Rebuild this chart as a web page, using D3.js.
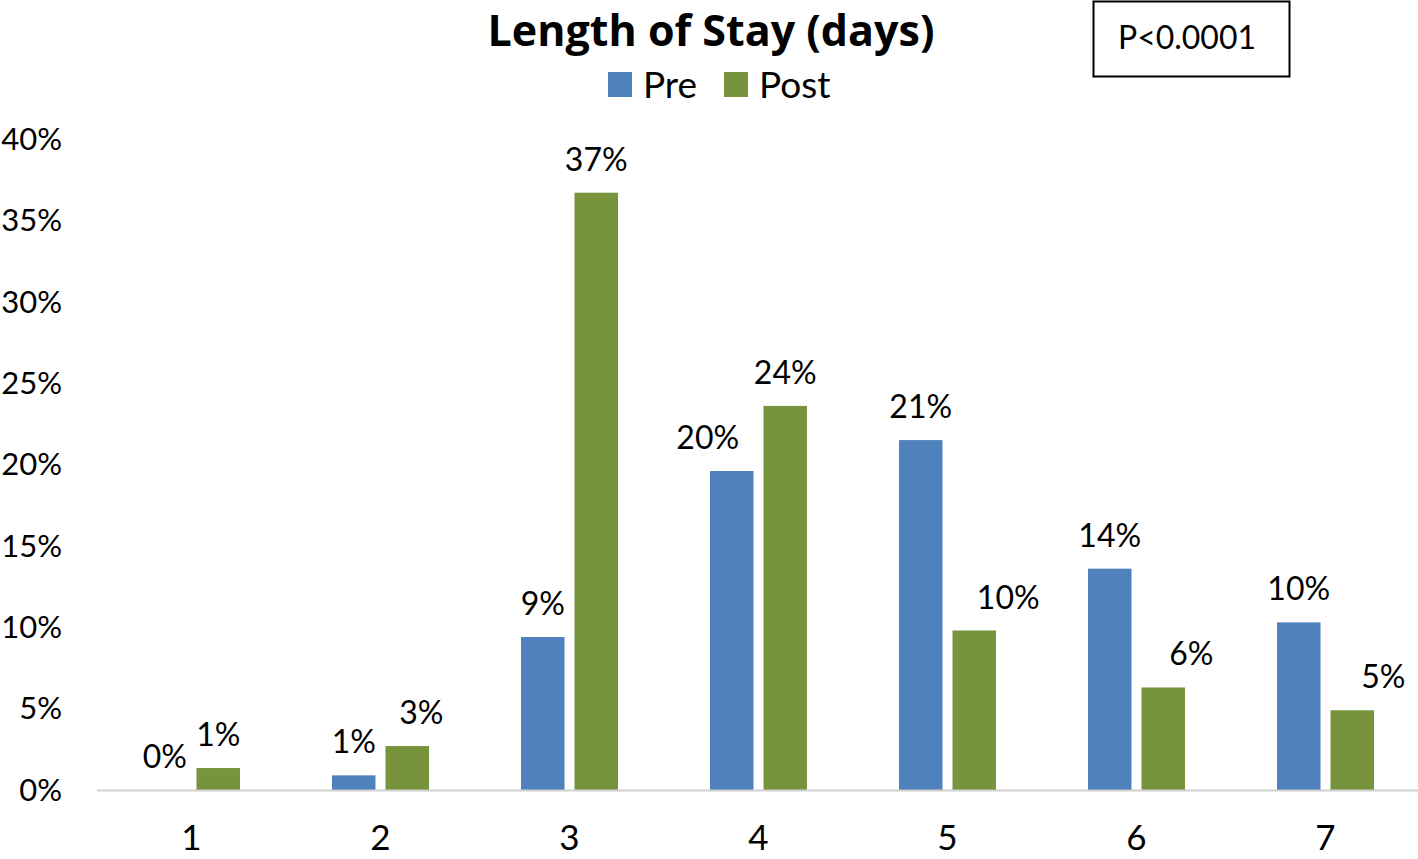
<!DOCTYPE html>
<html><head><meta charset="utf-8">
<script src="https://cdn.jsdelivr.net/npm/d3@7"></script>
<style>body{margin:0;background:#fff}svg{display:block}text{font-family:Lato,"Open Sans",sans-serif}</style>
</head><body><svg id="c" width="1418" height="859"></svg>
<script>
const categories = ["1","2","3","4","5","6","7"];
const seriesNames = ["Pre","Post"];
const preValues = [0.0, 0.9, 9.4, 19.6, 21.5, 13.6, 10.3];
const postValues = [1.35, 2.7, 36.7, 23.6, 9.8, 6.3, 4.9];
const preLabels = ["0%","1%","9%","20%","21%","14%","10%"];
const postLabels = ["1%","3%","37%","24%","10%","6%","5%"];
const yTicks = [0,5,10,15,20,25,30,35,40];
const colors = {Pre:"#4F81BD", Post:"#77933C"};

// label nudges (layout only, like Excel's moved labels)
const labelNudge = {"4-Pre":-24, "2-Post":14, "5-Post":34, "6-Post":28, "7-Post":31};

const svg = d3.select("#c");
const x = d3.scaleBand().domain(categories).range([97,1420]).paddingInner(0).paddingOuter(0);
const xs = d3.scaleBand().domain(seriesNames).range([0,x.bandwidth()]).paddingInner(0.187).paddingOuter(0.86);
const y = d3.scaleLinear().domain([0,40]).range([790,139]);

svg.append("g").selectAll("text").data(yTicks).join("text")
  .attr("x",62).attr("y",d=>y(d)).attr("dy","0.35em").attr("text-anchor","end")
  .attr("font-size",31).attr("fill","#000").text(d=>d+"%");

const data = [];
categories.forEach((c,i)=>{
  data.push({c, s:"Pre", v:preValues[i], l:preLabels[i]});
  data.push({c, s:"Post", v:postValues[i], l:postLabels[i]});
});
svg.append("g").selectAll("rect").data(data).join("rect")
  .attr("x",d=>x(d.c)+xs(d.s)).attr("width",xs.bandwidth())
  .attr("y",d=>y(d.v)).attr("height",d=>y(0)-y(d.v))
  .attr("fill",d=>colors[d.s]);

svg.append("line").attr("x1",97).attr("x2",1418).attr("y1",y(0)+0.5).attr("y2",y(0)+0.5)
  .attr("stroke","#d0d0d0").attr("stroke-width",2);

svg.append("g").selectAll("text").data(data).join("text")
  .attr("x",d=>x(d.c)+xs(d.s)+xs.bandwidth()/2 + (labelNudge[d.c+"-"+d.s]||0))
  .attr("y",d=>y(d.v)-22)
  .attr("text-anchor","middle").attr("font-size",32).attr("fill","#000").text(d=>d.l);

svg.append("g").selectAll("text").data(categories).join("text")
  .attr("x",d=>x(d)+x.bandwidth()/2).attr("y",850).attr("text-anchor","middle")
  .attr("font-size",35).attr("fill","#000").text(d=>d);

svg.append("text").attr("x",711).attr("y",46).attr("text-anchor","middle")
  .style("font-family","'Open Sans',sans-serif")
  .attr("font-size",43).attr("font-weight","bold").text("Length of Stay (days)");

const leg = [{n:"Pre",x:608},{n:"Post",x:724}];
leg.forEach(l=>{
  svg.append("rect").attr("x",l.x).attr("y",72).attr("width",24).attr("height",25).attr("fill",colors[l.n]);
  svg.append("text").attr("x",l.x+35).attr("y",98).attr("font-size",37).text(l.n);
});

svg.append("rect").attr("x",1093.5).attr("y",1.5).attr("width",196).attr("height",75)
  .attr("fill","none").attr("stroke","#000").attr("stroke-width",2);
svg.append("text").attr("x",1187).attr("y",49).attr("text-anchor","middle").attr("font-size",32).text("P<0.0001");
</script></body></html>
